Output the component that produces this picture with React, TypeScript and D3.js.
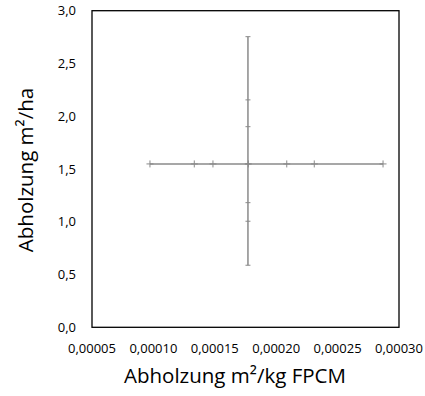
import React from "react";
import * as d3 from "d3";

const hX = [0.0000972, 0.0001333, 0.0001485, 0.0001773, 0.0002086, 0.000231, 0.000287];
const hY = [1.548, 1.548, 1.548, 1.548, 1.548, 1.548, 1.548];
const vX = [0.000177, 0.000177, 0.000177, 0.000177, 0.000177, 0.000177, 0.000177];
const vY = [2.754, 2.155, 1.901, 1.548, 1.181, 1.005, 0.588];
const xTicks = [0.00005, 0.0001, 0.00015, 0.0002, 0.00025, 0.0003];
const yTicks = [0, 0.5, 1, 1.5, 2, 2.5, 3];
const xTitle = "Abholzung m²/kg FPCM";
const yTitle = "Abholzung m²/ha";

const W = 425, H = 396;
const L = 92, R = 399, T = 10.7, B = 327.3;
const FONT = "'Open Sans', 'Liberation Sans', sans-serif";

export default function App() {
  const x = d3.scaleLinear().domain([0.00005, 0.0003]).range([L, R]);
  const y = d3.scaleLinear().domain([0, 3]).range([B, T]);
  const line = d3.line<[number, number]>().x(d => x(d[0])).y(d => y(d[1]));
  const hPts: [number, number][] = hX.map((v, i) => [v, hY[i]]);
  const vPts: [number, number][] = vX.map((v, i) => [v, vY[i]]);
  const fmtX = (v: number) => v.toFixed(5).replace(".", ",");
  const fmtY = (v: number) => v.toFixed(1).replace(".", ",");
  const col = "#8a8a8a";
  return (
    <svg width={W} height={H} style={{ position: "absolute", left: 0, top: 0 }} fontFamily={FONT}>
      <rect x={0} y={0} width={W} height={H} fill="#fff" />
      <rect x={L} y={T} width={R - L} height={B - T} fill="none" stroke="#000" strokeWidth={1.3} />
      <path d={line(hPts) || ""} fill="none" stroke={col} strokeWidth={1.5} />
      <path d={line(vPts) || ""} fill="none" stroke={col} strokeWidth={1.5} />
      {hPts.map((p, i) => (
        <g key={"h" + i} stroke={col} strokeWidth={1}>
          <line x1={x(p[0])} x2={x(p[0])} y1={y(p[1]) - 3.5} y2={y(p[1]) + 3.5} />
          <line x1={x(p[0]) - 3.5} x2={x(p[0]) + 3.5} y1={y(p[1])} y2={y(p[1])} />
        </g>
      ))}
      {vPts.map((p, i) => (
        <g key={"v" + i} stroke={col} strokeWidth={1}>
          <line x1={x(p[0]) - 2.5} x2={x(p[0]) + 2.5} y1={y(p[1])} y2={y(p[1])} />
        </g>
      ))}
      {xTicks.map(t => (
        <text key={"xt" + t} x={x(t)} y={353} textAnchor="middle" fontSize={13} fill="#000">
          {fmtX(t)}
        </text>
      ))}
      {yTicks.map(t => (
        <text key={"yt" + t} x={76} y={y(t) + 4.5} textAnchor="end" fontSize={13} fill="#000">
          {fmtY(t)}
        </text>
      ))}
      <text x={235} y={383} textAnchor="middle" fontSize={20.5} fill="#000">
        {xTitle}
      </text>
      <text transform={`translate(33,170) rotate(-90)`} textAnchor="middle" fontSize={20.5} fill="#000">
        {yTitle}
      </text>
    </svg>
  );
}
